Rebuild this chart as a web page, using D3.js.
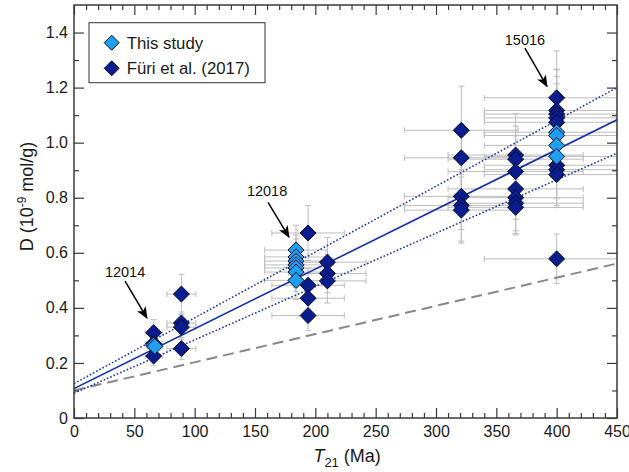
<!DOCTYPE html>
<html>
<head>
<meta charset="utf-8">
<script src="https://cdn.jsdelivr.net/npm/d3@7"></script>
<style>
  html, body { margin: 0; padding: 0; background: #fff; }
  svg text { font-family: "Liberation Sans", Arial, Helvetica, sans-serif; }
</style>
</head>
<body>
<svg id="chart" width="629" height="472"></svg>
<script>
// ---------- data ----------
const xTicks = [0, 50, 100, 150, 200, 250, 300, 350, 400, 450];
const yTicks = [0, 0.2, 0.4, 0.6, 0.8, 1.0, 1.2, 1.4];

// Füri et al. (2017)
const furiT    = [66, 66, 66, 89, 89, 89, 89, 194, 194, 194, 194, 210, 210, 210,
                  321, 321, 321, 321, 321,
                  366, 366, 366, 366, 366, 366, 366,
                  400, 400, 400, 400, 400, 400, 400, 400, 400];
const furiD    = [0.31, 0.27, 0.225, 0.45, 0.345, 0.33, 0.252, 0.672, 0.482, 0.435, 0.372, 0.566, 0.525, 0.498,
                  1.045, 0.945, 0.805, 0.772, 0.755,
                  0.955, 0.94, 0.895, 0.832, 0.80, 0.78, 0.765,
                  1.163, 1.117, 1.104, 1.09, 1.074, 0.918, 0.902, 0.884, 0.578];
const furiTErr = [7, 7, 7, 12, 12, 12, 12, 30, 30, 30, 30, 32, 32, 32,
                  47, 47, 47, 47, 47,
                  56, 56, 56, 56, 56, 56, 56,
                  60, 60, 60, 60, 60, 60, 60, 60, 60];
const furiDErr = [0.047, 0.04, 0.035, 0.072, 0.04, 0.045, 0.04, 0.10, 0.06, 0.06, 0.055, 0.09, 0.07, 0.08,
                  0.16, 0.12, 0.12, 0.13, 0.12,
                  0.15, 0.12, 0.13, 0.11, 0.12, 0.11, 0.10,
                  0.17, 0.15, 0.16, 0.15, 0.14, 0.12, 0.13, 0.12, 0.09];

// This study
const thisT    = [66, 67, 184, 184, 184, 184, 184, 184, 184, 400, 400, 400, 400];
const thisD    = [0.265, 0.26, 0.61, 0.585, 0.57, 0.556, 0.545, 0.53, 0.50, 1.038, 1.026, 0.99, 0.95];
const thisTErr = [6, 6, 26, 26, 26, 26, 26, 26, 26, 60, 60, 60, 60];
const thisDErr = [0.03, 0.03, 0.09, 0.08, 0.08, 0.08, 0.07, 0.07, 0.07, 0.10, 0.10, 0.09, 0.09];

// regression lines (endpoints)
const lineT      = [0, 450];
const fitD       = [0.107, 1.083];
const upperD     = [0.125, 1.200];
const lowerD     = [0.090, 0.962];
const referenceD = [0.100, 0.561];

// annotations: label, text position, arrow start/end (data units)
const annoLabel = ["12014", "12018", "15016"];
const annoTextT = [42.3, 160, 373.7];
const annoTextD = [0.511, 0.805, 1.353];
const arrowT0   = [42.3, 160.8, 373.7];
const arrowD0   = [0.497, 0.783, 1.343];
const arrowT1   = [60.5, 178.2, 392];
const arrowD1   = [0.363, 0.657, 1.204];

const legendLabels = ["This study", "Füri et al. (2017)"];

// ---------- layout ----------
const svg = d3.select("#chart");
const m = { left: 74, top: 5, right: 12, bottom: 54 };
const W = 629 - m.left - m.right;   // 543
const H = 472 - m.top - m.bottom;   // 413

const x = d3.scaleLinear().domain([0, 450]).range([0, W]);
const y = d3.scaleLinear().domain([0, 1.5]).range([H, 0]);

const g = svg.append("g").attr("transform", `translate(${m.left},${m.top})`);

const colDark = "#0b1c8c";
const colLight = "#1e9ff0";
const colStroke = "#070b2e";
const colErr = "#bdbdbd";
const axisCol = "#3a3a3a";

g.append("defs").append("clipPath").attr("id", "clip")
  .append("rect").attr("width", W).attr("height", H);

const plot = g.append("g").attr("clip-path", "url(#clip)");

// ---------- error bars ----------
function errorBars(T, D, TE, DE) {
  const cap = 3;
  const grp = plot.append("g").attr("stroke", colErr).attr("stroke-width", 1).attr("fill", "none");
  T.forEach((t, i) => {
    const cx = x(t), cy = y(D[i]);
    const xl = x(t - TE[i]), xr = x(t + TE[i]);
    const yt = y(D[i] + DE[i]), yb = y(D[i] - DE[i]);
    grp.append("path").attr("d",
      `M${xl},${cy}H${xr}M${xl},${cy - cap}V${cy + cap}M${xr},${cy - cap}V${cy + cap}` +
      `M${cx},${yt}V${yb}M${cx - cap},${yt}H${cx + cap}M${cx - cap},${yb}H${cx + cap}`);
  });
}
errorBars(furiT, furiD, furiTErr, furiDErr);
errorBars(thisT, thisD, thisTErr, thisDErr);

// ---------- lines ----------
function drawLine(D, color, width, dash) {
  const pts = lineT.map((t, i) => [t, D[i]]);
  plot.append("path")
    .datum(pts)
    .attr("d", d3.line().x(d => x(d[0])).y(d => y(d[1])))
    .attr("fill", "none")
    .attr("stroke", color)
    .attr("stroke-width", width)
    .attr("stroke-dasharray", dash);
}
drawLine(referenceD, "#888888", 2, "11,6");
drawLine(upperD, "#1f37b0", 1.6, "1.6,2");
drawLine(lowerD, "#1f37b0", 1.6, "1.6,2");
drawLine(fitD, "#1530a8", 1.6, null);

// ---------- diamonds ----------
const dm = 8;
const diamond = `M0,${-dm}L${dm},0L0,${dm}L${-dm},0Z`;
function diamonds(T, D, fill) {
  plot.append("g").selectAll("path").data(T).join("path")
    .attr("d", diamond)
    .attr("transform", (t, i) => `translate(${x(t)},${y(D[i])})`)
    .attr("fill", fill)
    .attr("stroke", colStroke)
    .attr("stroke-width", 1);
}
diamonds(furiT, furiD, colDark);
diamonds(thisT, thisD, colLight);

// ---------- axes ----------
const minorX = d3.range(0, 451, 10).filter(v => v % 50 !== 0);
const minorY = d3.range(1, 15, 1).map(v => v / 10).filter(v => Math.round(v * 10) % 2 !== 0);
const yFmt = d => d === 0 ? "0" : d3.format(".1f")(d);

function styleAxis(sel) {
  sel.select(".domain").remove();
  sel.selectAll(".tick line").attr("stroke", axisCol).attr("stroke-width", 1.2);
  sel.selectAll(".tick text").attr("fill", "#1a1a1a").style("font-size", "16px")
     .style("font-family", "'Liberation Sans', Arial, sans-serif");
}

g.append("g").attr("transform", `translate(0,${H})`)
  .call(d3.axisBottom(x).tickValues(xTicks).tickSize(-10).tickPadding(8)).call(styleAxis);
g.append("g").attr("transform", `translate(0,${H})`)
  .call(d3.axisBottom(x).tickValues(minorX).tickSize(-5).tickFormat("")).call(styleAxis);
g.append("g")
  .call(d3.axisTop(x).tickValues(xTicks).tickSize(-10).tickFormat("")).call(styleAxis);
g.append("g")
  .call(d3.axisTop(x).tickValues(minorX).tickSize(-5).tickFormat("")).call(styleAxis);

g.append("g")
  .call(d3.axisLeft(y).tickValues(yTicks).tickSize(-10).tickPadding(6).tickFormat(yFmt)).call(styleAxis);
g.append("g")
  .call(d3.axisLeft(y).tickValues(minorY).tickSize(-5).tickFormat("")).call(styleAxis);
g.append("g").attr("transform", `translate(${W},0)`)
  .call(d3.axisRight(y).tickValues(yTicks).tickSize(-10).tickFormat("")).call(styleAxis);
g.append("g").attr("transform", `translate(${W},0)`)
  .call(d3.axisRight(y).tickValues(minorY).tickSize(-5).tickFormat("")).call(styleAxis);

// frame
g.append("rect").attr("width", W).attr("height", H)
  .attr("fill", "none").attr("stroke", axisCol).attr("stroke-width", 1.5);

// ---------- axis titles ----------
const xt = svg.append("text")
  .attr("x", m.left + W * 0.503).attr("y", 462)
  .attr("text-anchor", "middle").style("font-size", "18px").attr("fill", "#1a1a1a");
xt.append("tspan").text("T").style("font-style", "italic");
xt.append("tspan").text("21").attr("dy", 5).style("font-size", "13px");
xt.append("tspan").text(" (Ma)").attr("dy", -5);

const yt = svg.append("text")
  .attr("transform", `translate(33,${m.top + y(0.75) - 15}) rotate(-90)`)
  .attr("text-anchor", "middle").style("font-size", "18px").attr("fill", "#1a1a1a");
yt.append("tspan").text("D (10");
yt.append("tspan").text("-9").attr("dy", -7).style("font-size", "12px");
yt.append("tspan").text(" mol/g)").attr("dy", 7);

// ---------- annotations ----------
const defs = svg.append("defs");
defs.append("marker").attr("id", "arrow")
  .attr("viewBox", "0 0 12 10").attr("refX", 11).attr("refY", 5)
  .attr("markerWidth", 12).attr("markerHeight", 10).attr("markerUnits", "userSpaceOnUse")
  .attr("orient", "auto")
  .append("path").attr("d", "M0,0L12,5L0,10L3,5Z").attr("fill", "#000");

const ann = g.append("g");
annoLabel.forEach((lab, i) => {
  ann.append("text").attr("x", x(annoTextT[i])).attr("y", y(annoTextD[i]))
    .attr("text-anchor", "middle").style("font-size", "14.5px").attr("fill", "#111").text(lab);
  ann.append("line")
    .attr("x1", x(arrowT0[i])).attr("y1", y(arrowD0[i]))
    .attr("x2", x(arrowT1[i])).attr("y2", y(arrowD1[i]))
    .attr("stroke", "#000").attr("stroke-width", 1.5)
    .attr("marker-end", "url(#arrow)");
});

// ---------- legend ----------
const lg = g.append("g").attr("transform", `translate(${89 - m.left},${22.7 - m.top})`);
lg.append("rect").attr("width", 176).attr("height", 60)
  .attr("fill", "#fff").attr("stroke", "#333").attr("stroke-width", 1);
const ld = 7.5;
const lDiamond = `M0,${-ld}L${ld},0L0,${ld}L${-ld},0Z`;
[colLight, colDark].forEach((c, i) => {
  const row = lg.append("g").attr("transform", `translate(22.7,${20 + i * 25.6})`);
  row.append("path").attr("d", lDiamond).attr("fill", c).attr("stroke", colStroke).attr("stroke-width", 1);
  row.append("text").attr("x", 15).attr("y", 5.8).style("font-size", "16.8px").attr("fill", "#1a1a1a")
    .text(legendLabels[i]);
});
</script>
</body>
</html>
